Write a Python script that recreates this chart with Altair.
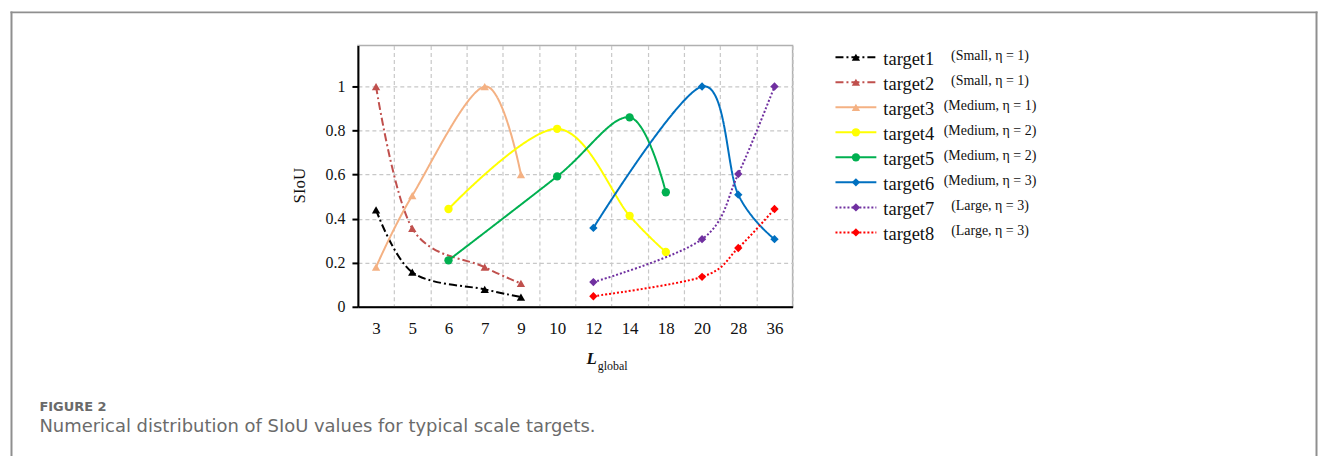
import altair as alt
import pandas as pd

# ---------------- data ----------------
targets = ["target1", "target2", "target3", "target4",
           "target5", "target6", "target7", "target8"]
descs = ["(Small, η = 1)", "(Small, η = 1)", "(Medium, η = 1)", "(Medium, η = 2)",
         "(Medium, η = 2)", "(Medium, η = 3)", "(Large, η = 3)", "(Large, η = 3)"]
x_cats = ["3", "5", "6", "7", "9", "10", "12", "14", "18", "20", "28", "36"]

small_x = ["3", "5", "7", "9"]
mid_x = ["6", "10", "14", "18"]
large_x = ["12", "20", "28", "36"]

t1 = [0.44, 0.157, 0.079, 0.044]
t2 = [1.0, 0.356, 0.18, 0.106]
t3 = [0.18, 0.505, 1.0, 0.60]
t4 = [0.444, 0.808, 0.413, 0.249]
t5 = [0.211, 0.592, 0.86, 0.52]
t6 = [0.358, 1.0, 0.509, 0.307]
t7 = [0.112, 0.307, 0.603, 1.0]
t8 = [0.048, 0.136, 0.267, 0.444]

series = [
    ("target1", small_x, t1), ("target2", small_x, t2), ("target3", small_x, t3),
    ("target4", mid_x, t4), ("target5", mid_x, t5),
    ("target6", large_x, t6), ("target7", large_x, t7), ("target8", large_x, t8),
]
y_ticks = [0, 0.2, 0.4, 0.6, 0.8, 1.0]

colors = ["#000000", "#C0504D", "#F4B183", "#FFFF00",
          "#00B050", "#0070C0", "#7030A0", "#FF0000"]
dashes = [[8, 3, 2, 3], [8, 3, 2, 3], [1, 0], [1, 0], [1, 0], [1, 0], [2, 2], [2, 2]]
shapes = ["triangle-up", "triangle-up", "triangle-up", "circle",
          "circle", "diamond", "diamond", "diamond"]

rows = []
for name, xs, ys in series:
    for xv, yv in zip(xs, ys):
        rows.append({"target": name, "L": xv, "Ln": int(xv), "siou": yv})
df = pd.DataFrame(rows)
leg_df = pd.DataFrame({"target": targets, "desc": descs})

SERIF = "Liberation Serif"
SANS = "DejaVu Sans"

color_enc = alt.Color("target:N", scale=alt.Scale(domain=targets, range=colors), legend=None)
dash_enc = alt.StrokeDash("target:N", scale=alt.Scale(domain=targets, range=dashes), legend=None)
shape_enc = alt.Shape("target:N", scale=alt.Scale(domain=targets, range=shapes), legend=None)
size_enc = alt.Size("target:N", scale=alt.Scale(domain=targets,
                    range=[70, 70, 70, 50, 50, 60, 60, 60]), legend=None)

x_enc = alt.X(
    "L:O",
    scale=alt.Scale(type="band", domain=x_cats, paddingInner=0, paddingOuter=0),
    sort=x_cats,
    title=None,
    axis=alt.Axis(
        ticks=False, domainColor="#000000", domainWidth=2,
        labelFont=SERIF, labelFontSize=17, labelColor="#111111", labelPadding=14,
        labelAngle=0,
        grid=True, gridColor="#c8c8c8", gridDash=[4, 3], gridWidth=1.2,
        tickBand="extent",
    ),
)
y_enc = alt.Y(
    "siou:Q",
    scale=alt.Scale(domain=[0, 1.186], nice=False, zero=True),
    title="SIoU",
    axis=alt.Axis(
        values=y_ticks, labelExpr="format(datum.value, '~g')",
        domainColor="#000000", domainWidth=2,
        tickColor="#000000", tickWidth=2, tickSize=6,
        labelFont=SERIF, labelFontSize=16, labelColor="#111111", labelPadding=7,
        titleFont=SERIF, titleFontSize=17, titleFontWeight="normal",
        titleColor="#111111", titlePadding=17, titleY=140,
        grid=True, gridColor="#c8c8c8", gridDash=[4, 3], gridWidth=1.2,
    ),
)

lines = alt.Chart(df).mark_line(interpolate="cardinal", strokeWidth=2).encode(
    x=x_enc, y=y_enc, color=color_enc, strokeDash=dash_enc,
    order=alt.Order("Ln:Q"),
)
points = alt.Chart(df).mark_point(filled=True, opacity=1).encode(
    x=x_enc, y=y_enc, color=color_enc, shape=shape_enc, size=size_enc,
)

one = alt.Data(values=[{}])
FRAME = "#8f8f8f"
frame_left = alt.Chart(one).mark_rule(color=FRAME, strokeWidth=2).encode(
    x=alt.value(-347.5), y=alt.value(-34.3), y2=alt.value(411.7))
frame_right = alt.Chart(one).mark_rule(color=FRAME, strokeWidth=2).encode(
    x=alt.value(961.5), y=alt.value(-34.3), y2=alt.value(411.7))
frame_top = alt.Chart(one).mark_rule(color=FRAME, strokeWidth=2).encode(
    x=alt.value(-348.5), x2=alt.value(962.5), y=alt.value(-33.3))

xt_L = alt.Chart(one).mark_text(
    text="L", font=SERIF, fontSize=17, fontWeight="bold", fontStyle="italic",
    align="center", baseline="alphabetic", color="#111111",
).encode(x=alt.value(234.5), y=alt.value(319.7))
xt_sub = alt.Chart(one).mark_text(
    text="global", font=SERIF, fontSize=12, align="left",
    baseline="alphabetic", color="#111111",
).encode(x=alt.value(240.5), y=alt.value(325.7))

cap1 = alt.Chart(one).mark_text(
    text="FIGURE 2", font=SANS, fontSize=13, fontWeight="bold", align="left",
    baseline="alphabetic", color="#6a6a6a",
).encode(x=alt.value(-319.5), y=alt.value(366.7))
cap2 = alt.Chart(one).mark_text(
    text="Numerical distribution of SIoU values for typical scale targets.",
    font=SANS, fontSize=18, align="left", baseline="alphabetic", color="#6b6b6b",
).encode(x=alt.value(-319.5), y=alt.value(387.7))

main = alt.layer(
    lines, points, frame_left, frame_right, frame_top, xt_L, xt_sub, cap1, cap2
).properties(
    width=436, height=262,
    view=alt.ViewBackground(stroke="#b0b0b0", strokeWidth=1.5),
)

# ---------------- legend ----------------
leg_y = alt.Y("target:N",
              scale=alt.Scale(type="point", domain=targets, range=[11.7, 187.4], padding=0),
              axis=None, title=None)
leg_line = alt.Chart(leg_df).mark_rule(strokeWidth=2).encode(
    x=alt.value(0), x2=alt.value(41), y=leg_y, color=color_enc, strokeDash=dash_enc)
leg_pt = alt.Chart(leg_df).mark_point(filled=True, opacity=1).encode(
    x=alt.value(20.5), y=leg_y, color=color_enc, shape=shape_enc, size=size_enc)
leg_name = alt.Chart(leg_df).mark_text(
    font=SERIF, fontSize=18.5, align="left", baseline="middle", color="#111111", dy=2,
).encode(x=alt.value(48), y=leg_y, text="target:N")
leg_desc = alt.Chart(leg_df).mark_text(
    font=SERIF, fontSize=14, align="center", baseline="middle", color="#111111", dy=-1,
).encode(x=alt.value(155), y=leg_y, text="desc:N")

legend = alt.layer(leg_line, leg_pt, leg_name, leg_desc).properties(
    width=210, height=262,
    view=alt.ViewBackground(stroke="transparent", strokeWidth=0),
)

chart = alt.hconcat(main, legend, spacing=43, bounds="flush").properties(
    padding=0, background="white",
).configure_view(stroke="#b0b0b0")

chart.save("out.html", embed_options={"renderer": "svg", "actions": False})
